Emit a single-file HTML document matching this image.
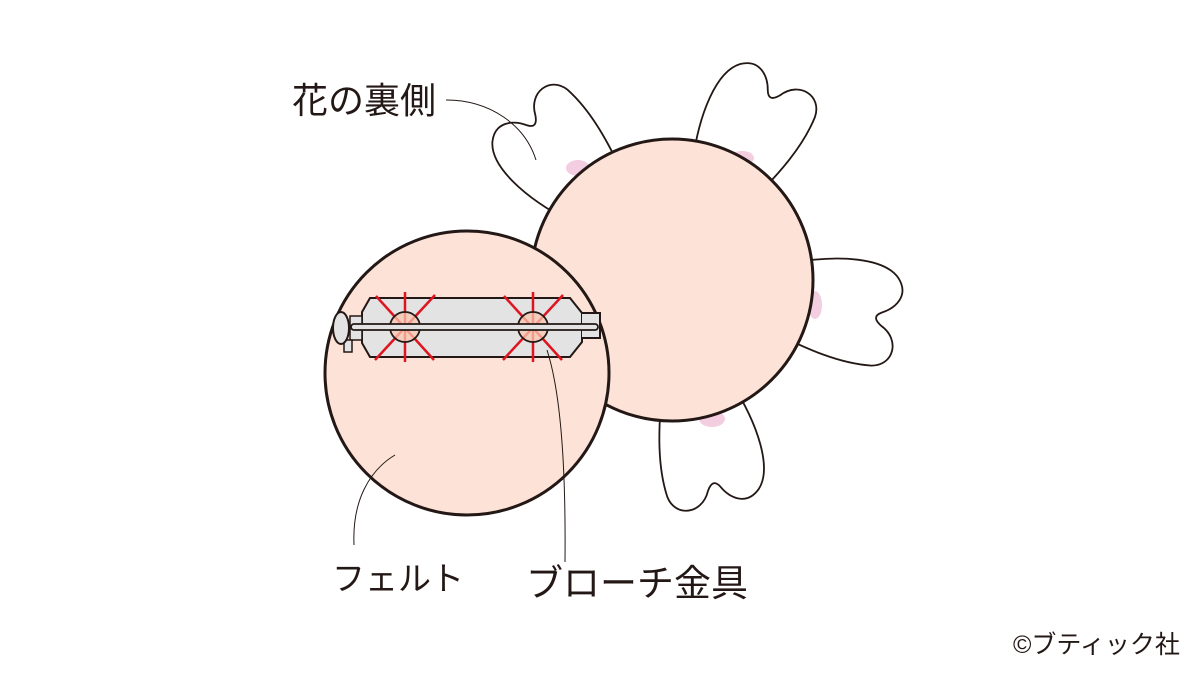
<!DOCTYPE html>
<html><head><meta charset="utf-8"><style>
body{margin:0;background:#fff;}
svg{display:block}
text{font-family:"Liberation Sans","Noto Sans CJK JP",sans-serif;fill:#231815}
</style></head><body>
<svg width="1200" height="675" viewBox="0 0 1200 675" xmlns="http://www.w3.org/2000/svg">
<defs>
<path id="pet" d="M -38,-110 C -58,-160 -62,-205 -45,-222 C -30,-236 -15,-225 -8,-212 Q -2,-202 5,-214 C 15,-236 42,-234 46,-212 C 50,-180 42,-145 32,-110 Z"/>
</defs>
<g fill="#fff" stroke="#231815" stroke-width="1.8">
<use href="#pet" transform="translate(672,280) rotate(-41)"/>
<use href="#pet" transform="translate(672,280) rotate(29)"/>
<use href="#pet" transform="translate(672,280) rotate(101)"/>
<use href="#pet" transform="translate(672,280) rotate(169)"/>
</g>
<g fill="#f3cde0">
<ellipse cx="578" cy="168" rx="12" ry="8"/>
<ellipse cx="742" cy="158" rx="12" ry="7"/>
<ellipse cx="815" cy="305" rx="7" ry="14"/>
<ellipse cx="712" cy="419" rx="13" ry="8"/>
</g>
<circle cx="672" cy="280" r="141" fill="#fde3d7" stroke="#231815" stroke-width="3"/>
<circle cx="467" cy="373" r="142" fill="#fde3d7" stroke="#231815" stroke-width="3"/>
<path d="M362,312 L370,298 L570,298 L582,313 L582,342 L570,357 L370,357 L362,343 Z" fill="#e3e3e4" stroke="#231815" stroke-width="2"/>
<path d="M582,313 L600,313 L600,338 L582,338" fill="#e3e3e4" stroke="#231815" stroke-width="2"/>
<path d="M350,316 L362,316 L362,340 L350,340 Z" fill="#e3e3e4" stroke="#231815" stroke-width="1.5"/>
<rect x="344" y="340" width="8" height="12" fill="#e3e3e4" stroke="#231815" stroke-width="1.5"/>
<ellipse cx="341" cy="328" rx="8" ry="16" fill="#e3e3e4" stroke="#231815" stroke-width="2"/>
<g stroke="#e0141e" stroke-width="2.5">
<line x1="376" y1="296" x2="434" y2="360"/><line x1="435" y1="295" x2="375" y2="360"/><line x1="405" y1="292" x2="405" y2="362"/>
<line x1="504" y1="296" x2="562" y2="360"/><line x1="563" y1="295" x2="503" y2="360"/><line x1="533" y1="292" x2="533" y2="362"/>
</g>
<circle cx="405" cy="327" r="15" fill="#f9c7b0" fill-opacity="0.75" stroke="#231815" stroke-width="1.8"/>
<circle cx="533" cy="327" r="15" fill="#f9c7b0" fill-opacity="0.75" stroke="#231815" stroke-width="1.8"/>
<rect x="351" y="324" width="247" height="6" rx="3" fill="#e3e3e4" stroke="#231815" stroke-width="1.8"/>
<g fill="none" stroke="#231815" stroke-width="1">
<path d="M446,100 C490,100 525,125 536,160"/>
<path d="M354,545 C352,500 370,470 395,455"/>
<path d="M565,562 C566,460 560,390 547,350"/>
</g>
<text x="292" y="113" font-size="36">花の裏側</text>
<text x="332" y="590" font-size="33">フェルト</text>
<text x="526" y="596" font-size="37">ブローチ金具</text>
<text x="1013" y="653" font-size="25">©ブティック社</text>
</svg>
</body></html>
